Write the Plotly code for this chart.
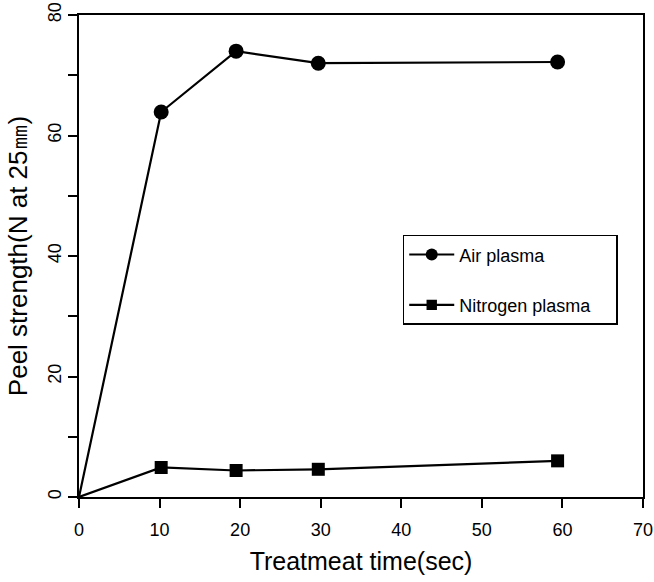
import plotly.graph_objects as go

time_air = [0, 10.2, 19.5, 29.7, 59.4]
air_plasma = [0, 63.9, 74.0, 72.0, 72.2]
time_n2 = [0, 10.2, 19.5, 29.7, 59.4]
nitrogen_plasma = [0, 4.9, 4.4, 4.6, 6.0]
series_names = ["Air plasma", "Nitrogen plasma"]

pad = "\u00a0" * 4
fig = go.Figure()
fig.add_trace(go.Scatter(x=time_air, y=air_plasma, name=series_names[0], mode="lines+markers",
                         line=dict(color="black", width=2.2),
                         marker=dict(symbol="circle", size=[0, 15, 15, 15, 15], color="#000000",
                                     opacity=1, line=dict(width=0)),
                         legendgroup="a"))
fig.add_trace(go.Scatter(x=time_n2, y=nitrogen_plasma, name=series_names[1] + pad, mode="lines+markers",
                         line=dict(color="black", width=2.2),
                         marker=dict(symbol="square", size=[0, 13, 13, 13, 13], color="#000000",
                                     opacity=1, line=dict(width=0)),
                         legendgroup="b"))

font = "Liberation Sans, Arial, Helvetica, sans-serif"
fig.update_layout(
    width=654, height=582,
    margin=dict(l=79, r=11, t=15, b=85, autoexpand=False),
    paper_bgcolor="white", plot_bgcolor="white",
    font=dict(family=font, color="black"),
    showlegend=True,
    legend=dict(x=0.574, y=0.544, xanchor="left", yanchor="top",
                bordercolor="black", borderwidth=1.5, bgcolor="white",
                font=dict(size=18), tracegroupgap=24, itemwidth=45),
)
fig.update_xaxes(range=[0, 70], dtick=10, tick0=0, ticks="outside", ticklen=9, tickwidth=2,
                 tickcolor="black", automargin=False, ticklabelstandoff=6,
                 showline=True, linecolor="black", linewidth=2, mirror=True, showgrid=False,
                 zeroline=False, tickfont=dict(size=18),
                 title=dict(text="Treatmeat time(sec)", font=dict(size=25), standoff=14))
fig.update_yaxes(range=[0, 80], dtick=20, tick0=0, ticks="outside", ticklen=9, tickwidth=2,
                 tickcolor="black", automargin=False,
                 showline=True, linecolor="black", linewidth=2, mirror=True, showgrid=False,
                 zeroline=False, tickfont=dict(size=18), tickangle=-90,
                 minor=dict(dtick=10, ticks="outside", ticklen=9, tickwidth=2, tickcolor="black"),
                 title=dict(text="Peel strength(N at 25㎜)", font=dict(size=26), standoff=10))
fig.write_html("out.html", config={"displayModeBar": False},
               post_script="document.body.style.margin='0';document.body.style.overflow='hidden';")
